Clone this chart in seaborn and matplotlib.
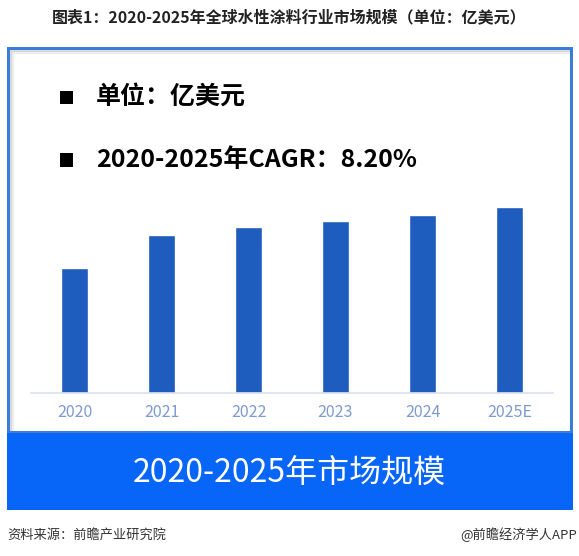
import matplotlib
matplotlib.use("Agg")
import matplotlib.pyplot as plt
import seaborn as sns
import pandas as pd
from matplotlib.patches import Rectangle

years = ['2020', '2021', '2022', '2023', '2024', '2025E']
market_size = [125, 158, 166, 172, 178, 186]

title = '图表1：2020-2025年全球水性涂料行业市场规模（单位：亿美元）'
unit_note = '单位：亿美元'
cagr_note = '2020-2025年CAGR：8.20%'
banner_text = '2020-2025年市场规模'
source_text = '资料来源：前瞻产业研究院'
brand_text = '@前瞻经济学人APP'

sns.set_style('white')
plt.rcParams['font.family'] = ['Noto Sans CJK SC', 'DejaVu Sans']

W, H = 579, 556
fig = plt.figure(figsize=(W / 100, H / 100), dpi=100)


def fx(x):
    return x / W


def fy(y):
    return 1 - y / H


def box(x0, y0, x1, y1, **kw):
    fig.add_artist(Rectangle((fx(x0), fy(y1)), fx(x1) - fx(x0), fy(y0) - fy(y1),
                             transform=fig.transFigure, zorder=-1, **kw))


# frame, shadow and banner
box(7, 47, 573, 434, facecolor='#3b7ddb', edgecolor='none')
box(10, 50, 570, 431, facecolor='#d8d8d8', edgecolor='none')
box(12, 52, 570, 431, facecolor='#ececec', edgecolor='none')
box(14, 54, 570, 431, facecolor='white', edgecolor='none')
box(7, 433, 573, 510, facecolor='#0765f7', edgecolor='none')

# bars
df = pd.DataFrame({'year': years, 'value': market_size})
ax = fig.add_axes([fx(31), fy(393), fx(553) - fx(31), fy(60) - fy(393)])
ax.set_zorder(2)
ax.patch.set_alpha(0)
sns.barplot(data=df, x='year', y='value', color='#1e5cbd', saturation=1,
            width=0.31, ax=ax)
ax.set_xlim(-0.5, 5.5)
ax.set_ylim(0, 333)
ax.set_xlabel('')
ax.set_ylabel('')
ax.set_yticks([])
for s in ['top', 'right', 'left']:
    ax.spines[s].set_visible(False)
ax.spines['bottom'].set_color('#d9e1ee')
ax.spines['bottom'].set_linewidth(1.2)
ax.tick_params(axis='x', length=0, pad=8, labelsize=11.5, labelcolor='#7d9bcf')

# texts
fig.text(0.5, fy(17), title, ha='center', va='center', fontsize=11.5,
         fontweight='bold', color='#222222')
for yy, txt in [(97, unit_note), (160, cagr_note)]:
    box(60, yy - 6.5, 73, yy + 6.5, facecolor='black', edgecolor='none')
    fig.text(fx(96), fy(yy), txt, ha='left', va='center', fontsize=18,
             fontweight='bold', color='black')
fig.text(0.5, fy(474), banner_text, ha='center', va='center', fontsize=23,
         fontweight='medium', color='white')
fig.text(fx(7), fy(535), source_text, ha='left', va='center', fontsize=9.5,
         color='#333333')
fig.text(fx(577), fy(535), brand_text, ha='right', va='center', fontsize=9.5,
         color='#333333')

fig.savefig('out.png', dpi=100)
